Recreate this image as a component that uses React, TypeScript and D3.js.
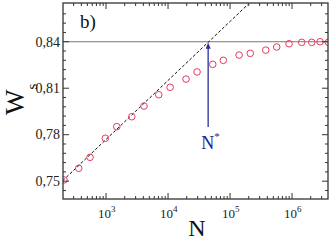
import { useRef, useEffect } from "react";
import * as d3 from "d3";

const WIDTH = 332;
const HEIGHT = 241;

// simulation points: N (log axis) vs W_s
const sizesN = [210, 363, 552, 975, 1490, 2600, 4100, 7080, 10800, 19500, 29400, 52600,
  78000, 140000, 212000, 377000, 566000, 895000, 1.43e6, 2.08e6, 2.83e6, 3.86e6];
const valuesW = [0.7508, 0.7583, 0.7654, 0.7777, 0.7852, 0.7916, 0.7985, 0.8058, 0.8106,
  0.8159, 0.8205, 0.8254, 0.828, 0.8314, 0.8325, 0.8346, 0.8366, 0.8387, 0.8396, 0.8396,
  0.84, 0.8396];

// dashed linear (in log N) fit
const fitN = [200, 2.03e5];
const fitW = [0.7503, 0.8648];

const plateauW = 0.84;
const nStar = 44400;
const arrowBaseW = 0.785;

const yMajor = [0.75, 0.78, 0.81, 0.84];
const yMinor = [0.744, 0.756, 0.762, 0.768, 0.774, 0.786, 0.792, 0.798, 0.804,
  0.816, 0.822, 0.828, 0.834, 0.846, 0.852, 0.858];
const xMajorExp = [3, 4, 5, 6];

export default function App() {
  const svgRef = useRef<SVGSVGElement>(null);

  useEffect(() => {
    const svg = d3.select(svgRef.current);
    svg.selectAll("*").remove();

    const left = 63, right = 328, top = 3, bottom = 199;
    const x = d3.scaleLog().domain([Math.pow(10, 2.306), Math.pow(10, 6.58)]).range([left, right]);
    const y = d3.scaleLinear().domain([0.7385, 0.865]).range([bottom, top]);

    svg.append("defs").append("clipPath").attr("id", "plot")
      .append("rect").attr("x", left).attr("y", top)
      .attr("width", right - left).attr("height", bottom - top);

    const plot = svg.append("g").attr("clip-path", "url(#plot)");

    // plateau line
    plot.append("line")
      .attr("x1", left).attr("x2", right)
      .attr("y1", y(plateauW)).attr("y2", y(plateauW))
      .attr("stroke", "#777").attr("stroke-width", 1);

    // dashed fit
    const line = d3.line<number>().x((_, i) => x(fitN[i])).y((d) => y(d));
    plot.append("path")
      .attr("d", line(fitW))
      .attr("fill", "none")
      .attr("stroke", "#111")
      .attr("stroke-width", 1)
      .attr("stroke-dasharray", "3,2");

    // points
    plot.selectAll("circle.pt")
      .data(sizesN)
      .enter()
      .append("circle")
      .attr("class", "pt")
      .attr("cx", (d) => x(d))
      .attr("cy", (_, i) => y(valuesW[i]))
      .attr("r", 3.3)
      .attr("fill", "none")
      .attr("stroke", "#e8395f")
      .attr("stroke-width", 1);

    // arrow to N*
    const ax = x(nStar);
    svg.append("line")
      .attr("x1", ax).attr("x2", ax)
      .attr("y1", y(arrowBaseW)).attr("y2", y(plateauW) + 6)
      .attr("stroke", "#4a4aa8").attr("stroke-width", 1.5);
    svg.append("path")
      .attr("d", `M${ax},${y(plateauW) + 1}L${ax - 2.5},${y(plateauW) + 7}L${ax + 2.5},${y(plateauW) + 7}Z`)
      .attr("fill", "#2a2a9a");

    const nLabel = svg.append("text")
      .attr("x", ax - 7).attr("y", y(arrowBaseW) + 22)
      .attr("font-family", "'Liberation Serif', serif")
      .attr("font-size", 18)
      .attr("fill", "#1c1c8c");
    nLabel.append("tspan").text("N");
    nLabel.append("tspan").attr("dy", -9).attr("font-size", 11).text("*");

    // frame
    const axisColor = "#333";
    svg.append("rect")
      .attr("x", left).attr("y", top)
      .attr("width", right - left).attr("height", bottom - top)
      .attr("fill", "none").attr("stroke", axisColor).attr("stroke-width", 1.3);

    // x ticks (log, inward, top and bottom)
    const xTicks = x.ticks();
    const tickG = svg.append("g").attr("stroke", axisColor).attr("stroke-width", 1);
    for (const t of xTicks) {
      const isMajor = Math.abs(Math.log10(t) - Math.round(Math.log10(t))) < 1e-9;
      const len = isMajor ? 6 : 3;
      const px = x(t);
      tickG.append("line").attr("x1", px).attr("x2", px).attr("y1", bottom).attr("y2", bottom - len);
      tickG.append("line").attr("x1", px).attr("x2", px).attr("y1", top).attr("y2", top + len);
    }
    for (const t of yMajor) {
      tickG.append("line").attr("x1", left).attr("x2", left + 6).attr("y1", y(t)).attr("y2", y(t));
      tickG.append("line").attr("x1", right).attr("x2", right - 6).attr("y1", y(t)).attr("y2", y(t));
    }
    for (const t of yMinor) {
      tickG.append("line").attr("x1", left).attr("x2", left + 3).attr("y1", y(t)).attr("y2", y(t));
      tickG.append("line").attr("x1", right).attr("x2", right - 3).attr("y1", y(t)).attr("y2", y(t));
    }

    const font = "'Liberation Serif', serif";

    // y tick labels
    svg.selectAll("text.ylab")
      .data(yMajor)
      .enter()
      .append("text")
      .attr("class", "ylab")
      .attr("x", left - 3)
      .attr("y", (d) => y(d) + 4.8)
      .attr("text-anchor", "end")
      .attr("font-family", font)
      .attr("font-size", 14)
      .attr("fill", "#222")
      .text((d) => d.toFixed(2).replace(".", ","));

    // x tick labels
    for (const e of xMajorExp) {
      const t = svg.append("text")
        .attr("x", x(Math.pow(10, e)) - 8)
        .attr("y", 218)
        .attr("font-family", font)
        .attr("font-size", 13)
        .attr("fill", "#222");
      t.append("tspan").text("10");
      t.append("tspan").attr("dy", -6).attr("font-size", 9).text(String(e));
    }

    // b) label
    svg.append("text")
      .attr("x", 80).attr("y", 28)
      .attr("font-family", font).attr("font-size", 19)
      .attr("fill", "#111")
      .text("b)");

    // axis titles
    svg.append("text")
      .attr("x", 197).attr("y", 236)
      .attr("text-anchor", "middle")
      .attr("font-family", font).attr("font-size", 24)
      .attr("fill", "#111")
      .text("N");

    const wt = svg.append("text")
      .attr("transform", "translate(24,115) rotate(-90)")
      .attr("font-family", font).attr("font-size", 27)
      .attr("fill", "#111");
    wt.append("tspan").text("W");
    wt.append("tspan").attr("dy", 13).attr("font-size", 15).text("s");
  }, []);

  return (
    <svg
      ref={svgRef}
      width={WIDTH}
      height={HEIGHT}
      viewBox={`0 0 ${WIDTH} ${HEIGHT}`}
      style={{ position: "absolute", left: 0, top: 0, background: "#fff" }}
    />
  );
}
